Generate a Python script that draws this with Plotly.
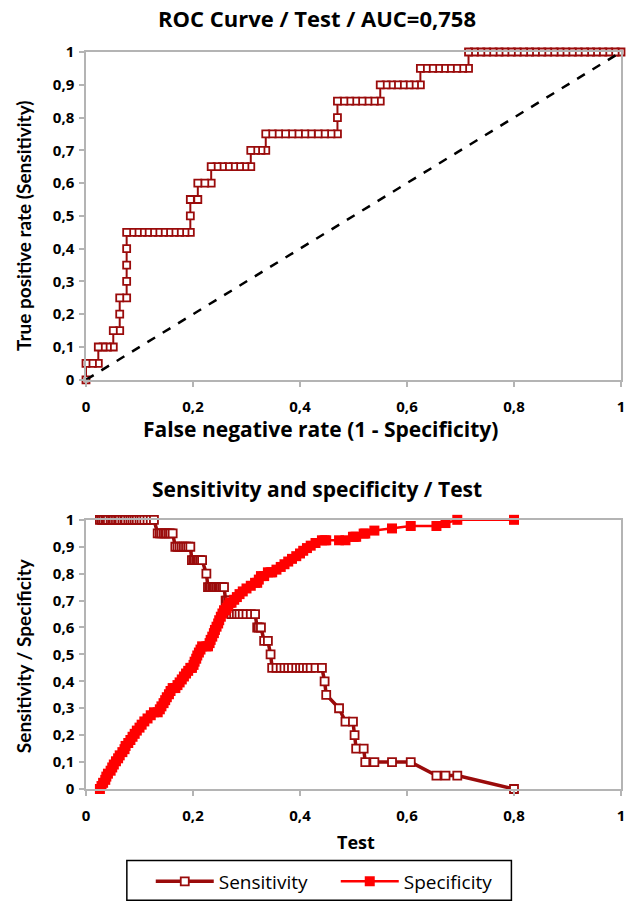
import plotly.graph_objects as go

# ---------------- data ----------------
# one row per threshold of the test, in increasing order of the test value
test = [
    0.026, 0.029, 0.032, 0.036, 0.038, 0.041, 0.046, 0.049, 0.052, 0.056,
    0.060, 0.063, 0.068, 0.072, 0.074, 0.079, 0.083, 0.087, 0.091, 0.095,
    0.100, 0.104, 0.109, 0.115, 0.121, 0.127,
    0.134, 0.138, 0.141, 0.145, 0.148, 0.151, 0.155, 0.158, 0.162,
    0.167, 0.171, 0.175, 0.179, 0.183, 0.187, 0.191, 0.195,
    0.198, 0.201, 0.203, 0.206, 0.208, 0.211, 0.214, 0.217,
    0.225,
    0.228, 0.231, 0.233, 0.236, 0.239, 0.241, 0.244, 0.247, 0.249, 0.252, 0.255, 0.258,
    0.261, 0.263, 0.266, 0.269,
    0.272, 0.277, 0.282, 0.287, 0.293, 0.300, 0.308, 0.316,
    0.320, 0.323, 0.327,
    0.333, 0.340,
    0.345,
    0.348, 0.356, 0.364, 0.371, 0.378, 0.385, 0.393, 0.400, 0.406, 0.413, 0.420, 0.429, 0.441,
    0.446,
    0.449,
    0.473,
    0.485, 0.499,
    0.502,
    0.505, 0.519,
    0.522, 0.539, 0.572, 0.607,
    0.655, 0.672, 0.694,
    0.800,
]

sensitivity = [
    1.00, 1.00, 1.00, 1.00, 1.00, 1.00, 1.00, 1.00, 1.00, 1.00,
    1.00, 1.00, 1.00, 1.00, 1.00, 1.00, 1.00, 1.00, 1.00, 1.00,
    1.00, 1.00, 1.00, 1.00, 1.00, 1.00,
    0.95, 0.95, 0.95, 0.95, 0.95, 0.95, 0.95, 0.95, 0.95,
    0.90, 0.90, 0.90, 0.90, 0.90, 0.90, 0.90, 0.90,
    0.85, 0.85, 0.85, 0.85, 0.85, 0.85, 0.85, 0.85,
    0.80,
    0.75, 0.75, 0.75, 0.75, 0.75, 0.75, 0.75, 0.75, 0.75, 0.75, 0.75, 0.75,
    0.70, 0.70, 0.70, 0.70,
    0.65, 0.65, 0.65, 0.65, 0.65, 0.65, 0.65, 0.65,
    0.60, 0.60, 0.60,
    0.55, 0.55,
    0.50,
    0.45, 0.45, 0.45, 0.45, 0.45, 0.45, 0.45, 0.45, 0.45, 0.45, 0.45, 0.45, 0.45,
    0.40,
    0.35,
    0.30,
    0.25, 0.25,
    0.20,
    0.15, 0.15,
    0.10, 0.10, 0.10, 0.10,
    0.05, 0.05, 0.05,
    0.00,
]

specificity = [
    0.000, 0.011, 0.023, 0.034, 0.046, 0.057, 0.068, 0.080, 0.091, 0.103,
    0.114, 0.125, 0.137, 0.148, 0.160, 0.171, 0.182, 0.194, 0.205, 0.217,
    0.228, 0.239, 0.251, 0.262, 0.274, 0.285,
    0.285, 0.296, 0.307, 0.319, 0.330, 0.341, 0.352, 0.364, 0.375,
    0.375, 0.386, 0.396, 0.407, 0.418, 0.429, 0.439, 0.450,
    0.450, 0.461, 0.473, 0.484, 0.496, 0.507, 0.518, 0.530,
    0.530,
    0.530, 0.542, 0.554, 0.566, 0.579, 0.591, 0.603, 0.615, 0.627, 0.640, 0.652, 0.664,
    0.664, 0.673, 0.683, 0.692,
    0.692, 0.703, 0.713, 0.724, 0.734, 0.745, 0.755, 0.766,
    0.766, 0.778, 0.791,
    0.791, 0.805,
    0.805,
    0.805, 0.815, 0.825, 0.835, 0.845, 0.855, 0.865, 0.875, 0.885, 0.895, 0.904, 0.914, 0.924,
    0.924,
    0.924,
    0.924,
    0.924, 0.937,
    0.937,
    0.937, 0.949,
    0.949, 0.960, 0.968, 0.977,
    0.977, 0.988, 1.000,
    1.000,
]

# false positive rate for the ROC curve (1 - specificity)
fpr = [round(1 - s, 3) for s in specificity]

diag_x = [0, 1]
diag_y = [0, 1]

tick_vals_y = [0, 0.1, 0.2, 0.3, 0.4, 0.5, 0.6, 0.7, 0.8, 0.9, 1]
tick_text_y = ["0", "0,1", "0,2", "0,3", "0,4", "0,5", "0,6", "0,7", "0,8", "0,9", "1"]
tick_vals_x = [0, 0.2, 0.4, 0.6, 0.8, 1]
tick_text_x = ["0", "0,2", "0,4", "0,6", "0,8", "1"]

title_roc = "ROC Curve / Test / AUC=0,758"
title_ss = "Sensitivity and specificity / Test"
xlab_roc = "False negative rate (1 - Specificity)"
ylab_roc = "True positive rate (Sensitivity)"
xlab_ss = "Test"
ylab_ss = "Sensitivity / Specificity"

# ---------------- styling ----------------
W, H = 637, 912
ML, MR, MT, MB = 86, 14, 52, 118
PW = W - ML - MR
PH = H - MT - MB
DARK = "#9A0B0B"
RED = "#FF0000"
AXC = "#B4B4B4"
HFONT = "Open Sans"
VFONT = "Lato"


def px_x(p):
    return (p - ML) / PW


def px_y(p):
    return (H - MB - p) / PH


top_dom = [px_y(382), 1.0]
bot_dom = [0.0, px_y(523)]

fig = go.Figure()

# ROC curve
fig.add_trace(go.Scatter(
    x=fpr, y=sensitivity, xaxis="x", yaxis="y", mode="lines+markers",
    line=dict(color=DARK, width=2),
    marker=dict(symbol="square", size=7, color="white", line=dict(color=DARK, width=1.8)),
    showlegend=False, cliponaxis=False,
))
fig.add_trace(go.Scatter(
    x=diag_x, y=diag_y, xaxis="x", yaxis="y", mode="lines",
    line=dict(color="black", width=2.5, dash="dash"),
    showlegend=False, cliponaxis=False,
))

# Sensitivity / specificity vs test
fig.add_trace(go.Scatter(
    x=test, y=sensitivity, xaxis="x2", yaxis="y2", mode="lines+markers",
    name="Sensitivity",
    line=dict(color=DARK, width=3.5),
    marker=dict(symbol="square", size=8, color="white", line=dict(color=DARK, width=1.8)),
    cliponaxis=False,
))
fig.add_trace(go.Scatter(
    x=test, y=specificity, xaxis="x2", yaxis="y2", mode="lines+markers",
    name="Specificity",
    line=dict(color=RED, width=2.5),
    marker=dict(symbol="square", size=10, color=RED),
    cliponaxis=False,
))

tickfont = dict(family=HFONT, size=15, color="black", weight="bold")
common_axis = dict(
    showline=True, linecolor=AXC, linewidth=1.5, mirror=True,
    ticks="outside", ticklen=5, tickcolor=AXC, tickwidth=1.5,
    showgrid=False, zeroline=False, range=[0, 1], tickfont=tickfont,
    fixedrange=True,
)

fig.update_layout(
    width=W, height=H,
    margin=dict(l=ML, r=MR, t=MT, b=MB),
    paper_bgcolor="white", plot_bgcolor="white",
    font=dict(family=HFONT, color="black"),
    xaxis=dict(common_axis, anchor="y", domain=[0, 1], tickvals=tick_vals_x,
               ticktext=tick_text_x, ticklabelstandoff=7),
    yaxis=dict(common_axis, anchor="x", domain=top_dom, tickvals=tick_vals_y,
               ticktext=tick_text_y, ticklabelstandoff=2),
    xaxis2=dict(common_axis, anchor="y2", domain=[0, 1], tickvals=tick_vals_x,
                ticktext=tick_text_x, ticklabelstandoff=7),
    yaxis2=dict(common_axis, anchor="x2", domain=bot_dom, tickvals=tick_vals_y,
                ticktext=tick_text_y, ticklabelstandoff=2),
    showlegend=True,
    legend=dict(
        orientation="h", x=px_x(151), xanchor="left", y=px_y(868), yanchor="top",
        borderwidth=0, bgcolor="rgba(0,0,0,0)",
        font=dict(family=HFONT, size=19, color="black"),
        itemwidth=58, traceorder="normal", entrywidth=112, entrywidthmode="pixels",
    ),
    shapes=[dict(
        type="rect", xref="paper", yref="paper",
        x0=px_x(127), x1=px_x(513), y0=px_y(906), y1=px_y(866),
        line=dict(color="black", width=1.5), fillcolor="rgba(0,0,0,0)", layer="below",
    )],
)

ann = [
    (title_roc, 318, 18, 22, 0, HFONT),
    (title_ss, 318, 492, 21, 0, HFONT),
    (xlab_roc, 321, 432, 21, 0, HFONT),
    (xlab_ss, 357, 847, 18, 0, HFONT),
    (ylab_roc, 24, 227, 19, -90, VFONT),
    (ylab_ss, 24, 660, 19, -90, VFONT),
]
for text, x, y, size, angle, fam in ann:
    fig.add_annotation(
        text=text, xref="paper", yref="paper", x=px_x(x), y=px_y(y),
        xanchor="center", yanchor="middle", showarrow=False, textangle=angle,
        font=dict(family=fam, size=size, color="black", weight="bold"),
    )

fig.write_html("out.html")
